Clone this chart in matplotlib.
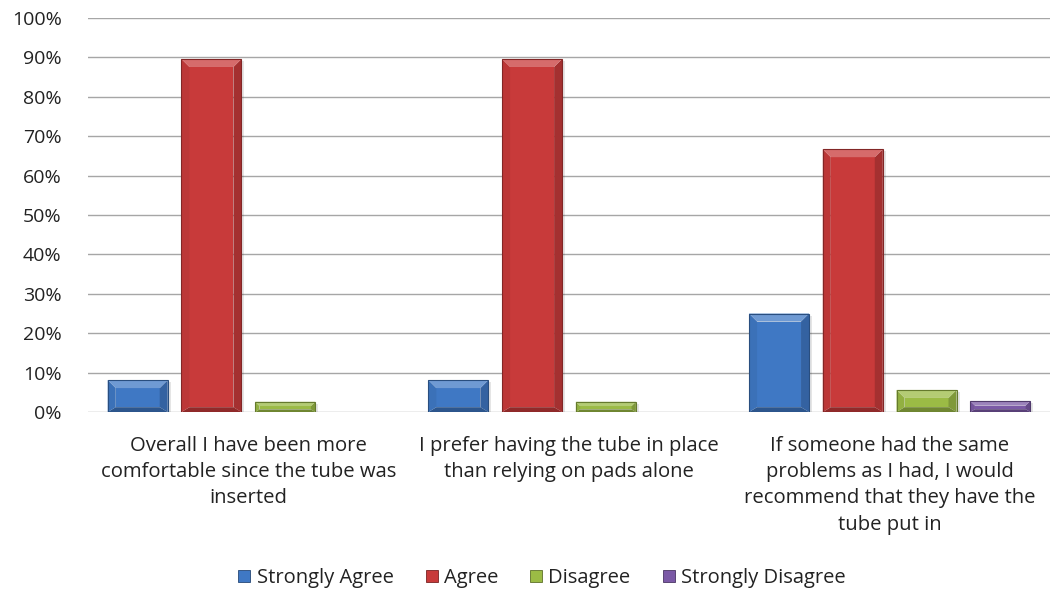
import matplotlib
matplotlib.use("Agg")
import matplotlib.pyplot as plt
import numpy as np
from matplotlib.patches import Polygon, Patch
from matplotlib.ticker import FuncFormatter
import matplotlib.colors as mcolors

categories = [
    "Overall I have been more\ncomfortable since the tube was\ninserted",
    "I prefer having the tube in place\nthan relying on pads alone",
    "If someone had the same\nproblems as I had, I would\nrecommend that they have the\ntube put in",
]
series_names = ["Strongly Agree", "Agree", "Disagree", "Strongly Disagree"]
strongly_agree = [8.1, 8.1, 25.0]
agree = [89.6, 89.6, 66.7]
disagree = [2.6, 2.6, 5.6]
strongly_disagree = [0.0, 0.0, 2.8]
series_values = [strongly_agree, agree, disagree, strongly_disagree]
series_colors = ["#3f78c4", "#c83a3a", "#9bbb45", "#7b59a6"]
y_ticks = list(range(0, 101, 10))

plt.rcParams["font.family"] = ["Open Sans", "DejaVu Sans"]

fig = plt.figure(figsize=(10.54, 5.89), dpi=100)
W, H = 1054, 589
ax = fig.add_axes([88 / W, 1 - 412 / H, (1050 - 88) / W, (412 - 18) / H])

n_cat = len(categories)
x = np.arange(n_cat)
bar_w = 0.187
step = 0.230
offsets = (np.arange(len(series_names)) - 1.5) * step

# pixel -> data scale for the bevel sizes
px_x = 1.0 * n_cat / (1050 - 88)
px_y = 100.0 / (412 - 18)


def shade(c, f):
    r, g, b = mcolors.to_rgb(c)
    return (r * f, g * f, b * f)


def tint(c, f):
    r, g, b = mcolors.to_rgb(c)
    return (r + (1 - r) * f, g + (1 - g) * f, b + (1 - b) * f)


def bevel_bar(xc, h, color):
    if h <= 0:
        return
    x0, x1 = xc - bar_w / 2, xc + bar_w / 2
    y0, y1 = 0.0, h
    bx = 8 * px_x
    by = min(8 * px_y, h * 0.42)
    bxx = bx if by >= 8 * px_y else bx * by / (8 * px_y)
    ix0, ix1, iy0, iy1 = x0 + bxx, x1 - bxx, y0 + by * 0.6, y1 - by
    # soft shadow
    ax.add_patch(Polygon([(x0 + 2 * px_x, y0 - 1.5 * px_y), (x1 + 3 * px_x, y0 - 1.5 * px_y),
                          (x1 + 3 * px_x, y1 - 2 * px_y), (x0 + 2 * px_x, y1 - 2 * px_y)],
                         closed=True, facecolor=(0, 0, 0, 0.10), edgecolor="none", zorder=2))
    faces = [
        ([(x0, y0), (x1, y0), (ix1, iy0), (ix0, iy0)], shade(color, 0.72)),
        ([(x1, y0), (x1, y1), (ix1, iy1), (ix1, iy0)], shade(color, 0.82)),
        ([(x0, y0), (ix0, iy0), (ix0, iy1), (x0, y1)], shade(color, 0.94)),
        ([(x0, y1), (ix0, iy1), (ix1, iy1), (x1, y1)], tint(color, 0.25)),
    ]
    ax.add_patch(Polygon([(ix0, iy0), (ix1, iy0), (ix1, iy1), (ix0, iy1)], closed=True,
                         facecolor=color, edgecolor="none", zorder=3))
    for pts, fc in faces:
        ax.add_patch(Polygon(pts, closed=True, facecolor=fc, edgecolor="none", zorder=3))
    ax.add_patch(Polygon([(x0, y0), (x1, y0), (x1, y1), (x0, y1)], closed=True,
                         facecolor="none", edgecolor=shade(color, 0.65), linewidth=0.8, zorder=4))


for vals, off, col in zip(series_values, offsets, series_colors):
    bars = ax.bar(x + off, vals, width=bar_w, color="none", edgecolor="none", zorder=3)
    for rect, v in zip(bars, vals):
        bevel_bar(rect.get_x() + rect.get_width() / 2, v, col)

ax.set_xlim(-0.5, n_cat - 0.5)
ax.set_ylim(0, 100)
ax.set_yticks(y_ticks)
ax.yaxis.set_major_formatter(FuncFormatter(lambda v, p: f"{int(v)}%"))
ax.tick_params(axis="y", length=0, pad=19, labelsize=14, labelcolor="#222222")
ax.set_xticks(x)
ax.set_xticklabels(categories, fontsize=14.6, color="#222222", linespacing=1.42)
ax.tick_params(axis="x", length=0, pad=17)
ax.grid(axis="y", color="#a6a6a6", linewidth=1.0, zorder=0)
ax.set_axisbelow(True)
for s in ax.spines.values():
    s.set_visible(False)

handles = [Patch(facecolor=c, edgecolor=shade(c, 0.6), linewidth=0.6) for c in series_colors]
fig.legend(handles, series_names, loc="center", bbox_to_anchor=(542 / W, 1 - 578 / H),
           ncol=4, frameon=False, fontsize=14.5, handlelength=0.6, handleheight=0.6,
           handletextpad=0.3, columnspacing=1.6, labelcolor="#222222")

fig.savefig("out.png", dpi=100)
